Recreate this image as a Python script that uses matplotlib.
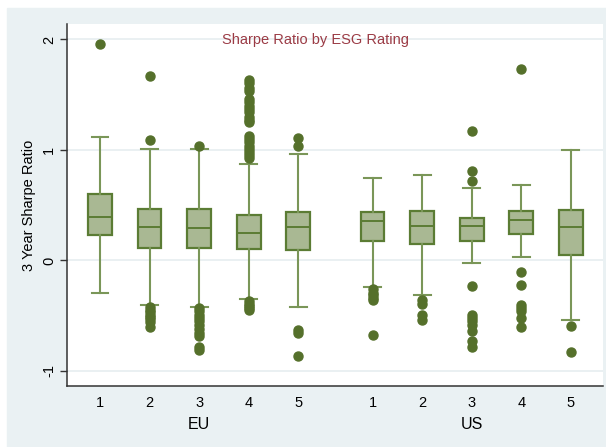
import matplotlib.pyplot as plt
from matplotlib.patches import Rectangle

plt.rcParams['font.family'] = ['Liberation Sans', 'DejaVu Sans']

groups = ['EU', 'US']
ratings = ['1', '2', '3', '4', '5']

# box stats per group/rating: (lower whisker, q1, median, q3, upper whisker)
eu_stats = [
    (-0.29, 0.235, 0.39, 0.60, 1.12),
    (-0.40, 0.115, 0.30, 0.465, 1.01),
    (-0.42, 0.115, 0.29, 0.465, 1.01),
    (-0.35, 0.10, 0.25, 0.415, 0.87),
    (-0.42, 0.094, 0.30, 0.44, 0.96),
]
us_stats = [
    (-0.24, 0.175, 0.353, 0.44, 0.75),
    (-0.31, 0.145, 0.31, 0.45, 0.77),
    (-0.02, 0.175, 0.31, 0.38, 0.66),
    (0.03, 0.24, 0.37, 0.447, 0.68),
    (-0.54, 0.054, 0.30, 0.456, 1.00),
]
eu_outliers = [
    [1.96],
    [1.67, 1.09, -0.42, -0.45, -0.47, -0.49, -0.51, -0.53, -0.56, -0.60],
    [1.04, -0.43, -0.46, -0.49, -0.52, -0.55, -0.58, -0.62, -0.66, -0.68, -0.78, -0.81],
    [1.63, 1.61, 1.56, 1.53, 1.46, 1.43, 1.40, 1.37, 1.34, 1.30, 1.27, 1.25,
     1.13, 1.10, 1.07, 1.04, 1.01, 0.98, 0.95, 0.93,
     -0.37, -0.39, -0.41, -0.43, -0.45],
    [1.11, 1.04, -0.63, -0.66, -0.86],
]
us_outliers = [
    [-0.26, -0.29, -0.31, -0.34, -0.36, -0.67],
    [-0.36, -0.39, -0.49, -0.54],
    [1.17, 0.81, 0.72, -0.23, -0.49, -0.52, -0.55, -0.58, -0.64, -0.73, -0.78],
    [1.73, -0.10, -0.22, -0.40, -0.43, -0.46, -0.52, -0.60],
    [-0.59, -0.83],
]

eu_pos = [0, 1, 2, 3, 4]
us_pos = [5.5, 6.5, 7.5, 8.5, 9.5]

box_fill = '#a9b893'
box_edge = '#5b7c34'
whisk_col = '#7a9658'
dot_col = '#55702b'

fig = plt.figure(figsize=(6.06, 4.47), dpi=100)
fig.patches.append(Rectangle((7 / 606, 0), 1, 1 - 8 / 447, transform=fig.transFigure,
                             color='#eaf1f3', zorder=-5))

ax = fig.add_axes([67 / 606, 61 / 447, 536 / 606, 362 / 447])
ax.set_zorder(2)
ax.set_facecolor('white')

stats = []
for s, out in zip(eu_stats + us_stats, eu_outliers + us_outliers):
    lo, q1, med, q3, hi = s
    stats.append(dict(whislo=lo, q1=q1, med=med, q3=q3, whishi=hi, fliers=out))

ax.bxp(stats, positions=eu_pos + us_pos, widths=0.48, patch_artist=True,
       boxprops=dict(facecolor=box_fill, edgecolor=box_edge, linewidth=1.6),
       medianprops=dict(color=box_edge, linewidth=1.4),
       whiskerprops=dict(color=whisk_col, linewidth=1.5),
       capprops=dict(color=whisk_col, linewidth=1.5),
       flierprops=dict(marker='o', markerfacecolor=dot_col, markeredgecolor=dot_col,
                       markersize=6.5),
       capwidths=0.34)

ax.set_xlim(-0.667, 10.15)
ax.set_ylim(-1.136, 2.14)
ax.set_yticks([-1, 0, 1, 2])
ax.set_yticklabels(['-1', '0', '1', '2'], rotation=90, va='center', fontsize=10.5)
ax.yaxis.grid(True, color='#e6eef0', linewidth=1.2)
ax.set_axisbelow(True)
ax.set_xticks(eu_pos + us_pos)
ax.set_xticklabels(ratings + ratings, fontsize=10.5)
ax.tick_params(axis='x', length=0, pad=7)
ax.tick_params(axis='y', length=5, width=1, color='#333333', pad=3)
for side in ['top', 'right']:
    ax.spines[side].set_visible(False)
for side in ['left', 'bottom']:
    ax.spines[side].set_color('#333333')
    ax.spines[side].set_linewidth(1.1)

ax.set_ylabel('3 Year Sharpe Ratio', fontsize=10.5, labelpad=4)

for g, pos in zip(groups, [eu_pos, us_pos]):
    ax.text(pos[2], -0.105, g, transform=ax.get_xaxis_transform(), ha='center',
            va='center', fontsize=11.5)

fig.text(315 / 606, 1 - 40 / 447, 'Sharpe Ratio by ESG Rating', ha='center', va='center',
         color='#9b3b45', fontsize=10.5, zorder=5)

fig.savefig('out.png', dpi=100)
